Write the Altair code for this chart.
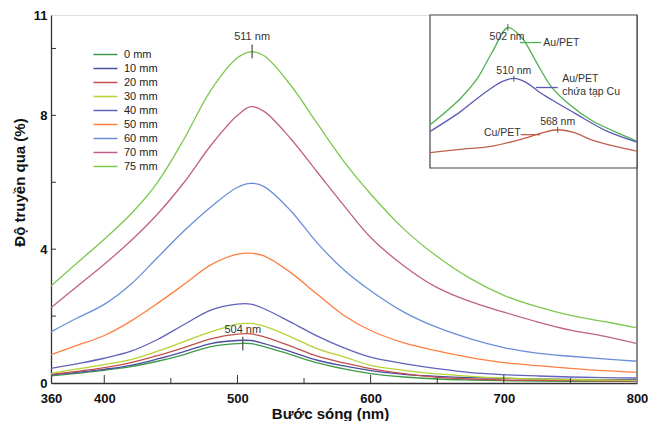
import altair as alt
import pandas as pd

# ---------------- main chart data ----------------
wavelength = [360, 380, 400, 420, 440, 460, 480, 500, 510, 520, 540, 560,
              580, 600, 625, 650, 675, 700, 725, 750, 775, 800]

t_0mm = [0.21, 0.29, 0.38, 0.49, 0.65, 0.85, 1.09, 1.18, 1.18, 1.09, 0.85, 0.60,
         0.42, 0.28, 0.18, 0.12, 0.09, 0.07, 0.06, 0.05, 0.05, 0.05]
t_10mm = [0.24, 0.32, 0.41, 0.53, 0.72, 0.94, 1.18, 1.27, 1.27, 1.18, 0.94, 0.68,
          0.51, 0.37, 0.26, 0.20, 0.16, 0.14, 0.12, 0.11, 0.10, 0.10]
t_20mm = [0.26, 0.35, 0.46, 0.61, 0.82, 1.06, 1.32, 1.46, 1.47, 1.38, 1.10, 0.80,
          0.60, 0.43, 0.28, 0.17, 0.12, 0.09, 0.08, 0.07, 0.06, 0.06]
t_30mm = [0.29, 0.42, 0.55, 0.70, 0.95, 1.24, 1.53, 1.76, 1.78, 1.70, 1.38, 1.02,
          0.78, 0.53, 0.38, 0.27, 0.20, 0.15, 0.12, 0.10, 0.09, 0.08]
t_40mm = [0.44, 0.58, 0.74, 0.95, 1.30, 1.75, 2.18, 2.36, 2.36, 2.22, 1.82, 1.40,
          1.05, 0.77, 0.58, 0.43, 0.31, 0.25, 0.21, 0.18, 0.16, 0.15]
t_50mm = [0.85, 1.13, 1.42, 1.85, 2.38, 2.95, 3.53, 3.85, 3.88, 3.80, 3.30, 2.65,
          2.02, 1.57, 1.20, 0.96, 0.76, 0.61, 0.52, 0.44, 0.37, 0.32]
t_60mm = [1.53, 1.95, 2.35, 2.95, 3.75, 4.55, 5.26, 5.85, 5.97, 5.87, 5.15, 4.18,
          3.38, 2.76, 2.12, 1.66, 1.32, 1.06, 0.89, 0.80, 0.72, 0.65]
t_70mm = [2.25, 2.90, 3.55, 4.25, 5.05, 6.00, 7.10, 8.00, 8.26, 8.12, 7.30, 6.30,
          5.30, 4.35, 3.50, 2.85, 2.43, 2.12, 1.83, 1.58, 1.40, 1.18]
t_75mm = [2.90, 3.60, 4.30, 5.05, 6.00, 7.30, 8.75, 9.72, 9.90, 9.78, 8.90, 7.75,
          6.62, 5.65, 4.60, 3.78, 3.12, 2.62, 2.28, 2.02, 1.84, 1.65]

series_labels = ["0 mm", "10 mm", "20 mm", "30 mm", "40 mm", "50 mm",
                 "60 mm", "70 mm", "75 mm"]
series_colors = ["#3c9a48", "#4a4ea0", "#c0504d", "#b5d334", "#6262bb",
                 "#ff7f40", "#6a8fd8", "#c0608a", "#7cc850"]
series_values = [t_0mm, t_10mm, t_20mm, t_30mm, t_40mm, t_50mm,
                 t_60mm, t_70mm, t_75mm]

x_tick_labels = [360, 400, 500, 600, 700, 800]
x_major_ticks = [400, 500, 600, 700]
x_minor_ticks = [450, 550, 650, 750]
y_tick_labels = [0, 4, 8, 11]
y_ticks = [2, 4, 6, 8, 10]

peak_lam = [511, 504]
peak_text = ["511 nm", "504 nm"]
peak_text_y = [10.35, 1.59]
peak_tick_top = [10.12, 1.38]
peak_tick_bot = [9.71, 0.97]

# ---------------- inset data ----------------
inset_lam_au = [399, 439, 461, 482, 502, 521, 539, 560, 582, 612, 643, 673]
inset_au = [2.82, 4.53, 5.81, 7.63, 9.17, 8.48, 6.99, 5.28, 4.21, 3.14, 2.39, 1.75]
inset_lam_aucu = [399, 439, 461, 482, 495, 510, 526, 547, 591, 634, 673]
inset_aucu = [2.39, 3.67, 4.53, 5.28, 5.66, 5.86, 5.60, 4.85, 3.57, 2.39, 1.69]
inset_lam_cu = [399, 439, 482, 526, 547, 568, 591, 612, 643, 673]
inset_cu = [1.00, 1.22, 1.43, 1.97, 2.29, 2.50, 2.29, 1.86, 1.43, 1.11]
inset_labels = ["Au/PET", "Au/PET chứa tạp Cu", "Cu/PET"]
inset_colors = ["#4fb150", "#5b5bb5", "#c0604a"]

inset_peak_lam = [502, 510, 568]
inset_peak_text = ["502 nm", "510 nm", "568 nm"]
inset_peak_text_lam = [501, 510, 568]
inset_peak_text_y = [8.59, 6.35, 3.01]
inset_peak_tick_top = [9.40, 6.03, 2.69]
inset_peak_tick_bot = [8.97, 5.64, 2.31]

inset_name_text = ["Au/PET", "Au/PET", "chứa tạp Cu", "Cu/PET"]
inset_name_lam = [549, 574, 574, 519]
inset_name_y = [8.20, 5.83, 5.00, 2.31]
inset_name_align = ["left", "left", "left", "right"]

inset_leader_lam1 = [518, 539, 519]
inset_leader_lam2 = [546, 568, 545]
inset_leader_y = [8.20, 5.26, 2.18]

inset_box_lam = [399, 673]
inset_box_val = [0, 10]

FONT = "Liberation Sans"
W, H = 586, 368

# ---------------- build tables ----------------
rows = []
for lab, vals in zip(series_labels, series_values):
    for w, v in zip(wavelength, vals):
        rows.append({"lam": w, "T": v, "series": lab})
df_main = pd.DataFrame(rows)

xs = alt.Scale(domain=[360, 800], nice=False, zero=False)
ys = alt.Scale(domain=[0, 11], nice=False, zero=False)

lines = alt.Chart(df_main).mark_line(strokeWidth=1.3, interpolate="catmull-rom").encode(
    x=alt.X("lam:Q", scale=xs,
            axis=alt.Axis(values=x_tick_labels, ticks=False, grid=False,
                          labelFlush=False, labelPadding=9, title="Bước sóng (nm)",
                          titleFontSize=15, titleFontWeight="bold", titlePadding=1,
                          labelFontSize=13, labelFontWeight="bold", labelColor="#111",
                          titleColor="#111", domainColor="#333", domainWidth=1.3,
                          labelFont=FONT, titleFont=FONT, titleX=round(W * 0.4755))),
    y=alt.Y("T:Q", scale=ys,
            axis=alt.Axis(values=y_tick_labels, ticks=False, grid=False,
                          labelFlush=False, labelPadding=4, title="Độ truyền qua (%)",
                          titleFontSize=15, titleFontWeight="bold", titlePadding=6,
                          labelFontSize=13, labelFontWeight="bold", labelColor="#111",
                          titleColor="#111", domainColor="#333", domainWidth=1.3,
                          labelFont=FONT, titleFont=FONT, titleY=round(H * 0.4545))),
    color=alt.Color("series:N",
                    scale=alt.Scale(domain=series_labels, range=series_colors),
                    sort=series_labels,
                    legend=alt.Legend(title=None, orient="none", legendX=46, legendY=31,
                                      symbolType="M-1.6,0H1.6", symbolSize=225,
                                      symbolStrokeWidth=1.5, labelFontSize=11,
                                      labelFont=FONT, labelColor="#222",
                                      labelOffset=10, rowPadding=0, padding=0)),
    detail="series:N",
)

df_border = pd.DataFrame({"lam": [800], "v1": [0], "v2": [11]})
border = alt.Chart(df_border).mark_rule(color="#8a8a8a", strokeWidth=2).encode(
    x=alt.X("lam:Q", scale=xs), y=alt.Y("v1:Q", scale=ys), y2="v2:Q")

ytk = alt.Chart(pd.DataFrame({"v": y_ticks})).mark_rule(color="#333", strokeWidth=1).encode(
    y=alt.Y("v:Q", scale=ys), x=alt.value(0), x2=alt.value(5))
xmaj = alt.Chart(pd.DataFrame({"w": x_major_ticks})).mark_rule(color="#333", strokeWidth=1).encode(
    x=alt.X("w:Q", scale=xs), y=alt.value(H), y2=alt.value(H - 8))
xmin = alt.Chart(pd.DataFrame({"w": x_minor_ticks})).mark_rule(color="#333", strokeWidth=1).encode(
    x=alt.X("w:Q", scale=xs), y=alt.value(H), y2=alt.value(H - 5))

df_peak = pd.DataFrame({"lam": peak_lam, "txt": peak_text, "ty": peak_text_y,
                        "t1": peak_tick_top, "t2": peak_tick_bot})
peak_txt = alt.Chart(df_peak).mark_text(fontSize=11, font=FONT, color="#333").encode(
    x=alt.X("lam:Q", scale=xs), y=alt.Y("ty:Q", scale=ys), text="txt:N")
peak_tick = alt.Chart(df_peak).mark_rule(color="#555", strokeWidth=1.3).encode(
    x=alt.X("lam:Q", scale=xs), y=alt.Y("t1:Q", scale=ys), y2="t2:Q")

main = alt.layer(lines, border, ytk, xmaj, xmin, peak_txt, peak_tick)

# ---------------- inset ----------------
irows = []
for lab, lams, vals in zip(inset_labels,
                           [inset_lam_au, inset_lam_aucu, inset_lam_cu],
                           [inset_au, inset_aucu, inset_cu]):
    for w, v in zip(lams, vals):
        irows.append({"ilam": w, "iv": v, "iseries": lab})
df_inset = pd.DataFrame(irows)

ixs = alt.Scale(domain=[399, 673], range=[round(W * 0.646), W], nice=False, zero=False)
iys = alt.Scale(domain=[0, 10], range=[round(H * 0.417), 0], nice=False, zero=False)
ics = alt.Scale(domain=inset_labels, range=inset_colors)

df_box = pd.DataFrame({"a": [inset_box_lam[0]], "b": [inset_box_lam[1]],
                       "c": [inset_box_val[0]], "d": [inset_box_val[1]]})
box = alt.Chart(df_box).mark_rect(fill="white", stroke="#444", strokeWidth=1.2).encode(
    x=alt.X("a:Q", scale=ixs, axis=None), x2="b:Q",
    y=alt.Y("c:Q", scale=iys, axis=None), y2="d:Q")

ilines = alt.Chart(df_inset).mark_line(strokeWidth=1.3, interpolate="catmull-rom").encode(
    x=alt.X("ilam:Q", scale=ixs, axis=None),
    y=alt.Y("iv:Q", scale=iys, axis=None),
    color=alt.Color("iseries:N", scale=ics, legend=None),
    detail="iseries:N")

df_ipeak = pd.DataFrame({"lam": inset_peak_lam, "tl": inset_peak_text_lam,
                         "txt": inset_peak_text, "ty": inset_peak_text_y,
                         "t1": inset_peak_tick_top, "t2": inset_peak_tick_bot})
ipeak_txt = alt.Chart(df_ipeak).mark_text(fontSize=10.5, font=FONT, color="#333").encode(
    x=alt.X("tl:Q", scale=ixs, axis=None), y=alt.Y("ty:Q", scale=iys, axis=None), text="txt:N")
ipeak_tick = alt.Chart(df_ipeak).mark_rule(color="#555", strokeWidth=1).encode(
    x=alt.X("lam:Q", scale=ixs, axis=None), y=alt.Y("t1:Q", scale=iys, axis=None), y2="t2:Q")

df_iname = pd.DataFrame({"lam": inset_name_lam, "v": inset_name_y,
                         "txt": inset_name_text, "al": inset_name_align})
iname_l = alt.Chart(df_iname[df_iname.al == "left"]).mark_text(
    fontSize=10.5, font=FONT, color="#333", align="left").encode(
    x=alt.X("lam:Q", scale=ixs, axis=None), y=alt.Y("v:Q", scale=iys, axis=None), text="txt:N")
iname_r = alt.Chart(df_iname[df_iname.al == "right"]).mark_text(
    fontSize=10.5, font=FONT, color="#333", align="right").encode(
    x=alt.X("lam:Q", scale=ixs, axis=None), y=alt.Y("v:Q", scale=iys, axis=None), text="txt:N")

df_lead = pd.DataFrame({"l1": inset_leader_lam1, "l2": inset_leader_lam2,
                        "v": inset_leader_y, "iseries": inset_labels})
ilead = alt.Chart(df_lead).mark_rule(strokeWidth=1.3).encode(
    x=alt.X("l1:Q", scale=ixs, axis=None), x2="l2:Q",
    y=alt.Y("v:Q", scale=iys, axis=None),
    color=alt.Color("iseries:N", scale=ics, legend=None))

inset = alt.layer(box, ilines, ilead, ipeak_tick, ipeak_txt, iname_l, iname_r)

chart = alt.layer(main, inset).resolve_scale(
    x="independent", y="independent", color="independent"
).properties(
    width=W, height=H,
    padding={"left": 4, "top": 1, "right": 1, "bottom": 0},
).configure_view(stroke=None).configure(background="white")

chart.save("out.html", embed_options={"renderer": "svg", "actions": False})
